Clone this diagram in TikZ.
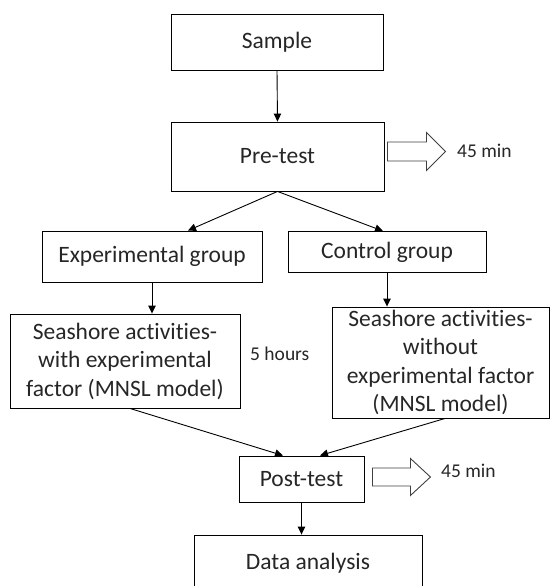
\documentclass[tikz,border=0pt]{standalone}
\usepackage{fontspec}
\setmainfont{Carlito}[Ligatures={NoCommon,NoRare,NoDiscretionary}]
\usetikzlibrary{arrows.meta,calc}
\begin{document}
\begin{tikzpicture}[x=1pt,y=1pt,
  box/.style={draw=black,line width=0.9pt,inner sep=0pt,align=center,
    font=\fontsize{23.5}{28.5}\selectfont,text=black!85},
  conn/.style={draw=black,line width=0.9pt,-{Triangle[length=8pt,width=7.5pt]}},
  hollow/.style={draw=black!75,line width=0.9pt,fill=white},
  note/.style={inner sep=0pt,font=\fontsize{19.5}{23}\selectfont,text=black!85,anchor=base west}]
\useasboundingbox (0,0) rectangle (551,-586);
\clip (0,0) rectangle (551,-586);
\node[box,minimum width=212,minimum height=56] (sample) at (277,-42) {Sample};
\node[box,minimum width=213,minimum height=69] (pre) at (277.5,-156.5) {Pre-test};
\node[box,minimum width=220,minimum height=51] (exp) at (152,-256.5) {Experimental group};
\node[box,minimum width=198,minimum height=41] (ctrl) at (387,-252) {Control group};
\node[box,minimum width=230,minimum height=94] (sea1) at (125,-361) {Seashore activi\kern0ptti\kern0ptes-\\with experimental\\factor (MNSL model)};
\node[box,minimum width=217,minimum height=111] (sea2) at (440.5,-362.5) {Seashore activi\kern0ptti\kern0ptes-\\without\\experimental factor\\(MNSL model)};
\node[box,minimum width=125,minimum height=46] (post) at (301.5,-479) {Post-test};
\node[box,minimum width=228,minimum height=56] (data) at (308,-563) {Data analysis};

\node[note] (t1) at (457,-157) {45 min};
\node[note] (t2) at (441,-477) {45 min};
\node[note] (t3) at (250,-360) {5 hours};

\draw[conn] (sample.south) -- (pre.north);
\draw[conn] (pre.south) -- ($(exp.north)+(36,0)$);
\draw[conn] (pre.south) -- ($(ctrl.north)+(-4,0)$);
\draw[conn] (exp.south) -- (exp.south |- sea1.north);
\draw[conn] (ctrl.south) -- (ctrl.south |- sea2.north);
\draw[conn] ($(sea1.south)+(5,0)$) -- ($(post.north)+(-18.5,0)$);
\draw[conn] ($(sea2.south)+(4.5,0)$) -- ($(post.north)+(18.5,0)$);
\draw[conn] (post.south) -- (post.south |- data.north);

\draw[hollow] ($(pre.east)+(3,14.5)$) -- ++(39,0) -- ++(0,9.5) -- ++(19,-19) -- ++(-19,-19) -- ++(0,9.5) -- ++(-39,0) -- cycle;
\draw[hollow] ($(post.east)+(8,11)$) -- ++(38,0) -- ++(0,9.5) -- ++(20,-18.5) -- ++(-20,-18.5) -- ++(0,9.5) -- ++(-38,0) -- cycle;
\end{tikzpicture}
\end{document}
